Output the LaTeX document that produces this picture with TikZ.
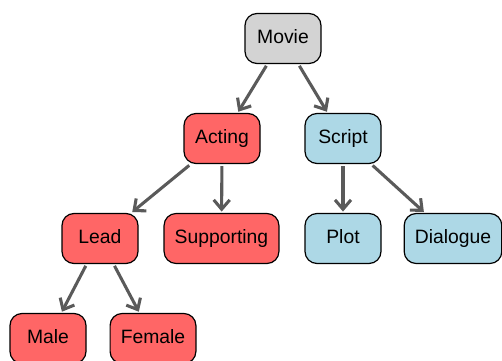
\documentclass[tikz,border=0pt]{standalone}
\usepackage{fontspec}
\setmainfont{Liberation Sans}
\usepackage{xcolor}
\usepackage{tikz}
\usetikzlibrary{arrows.meta}

\definecolor{rootgray}{HTML}{D3D3D3}
\definecolor{actred}{HTML}{FF6666}
\definecolor{scriptblue}{HTML}{ADD8E6}
\definecolor{edggray}{HTML}{5A5A5A}

\begin{document}
\begin{tikzpicture}[
  x=0.75pt, y=-0.75pt,             % <-- unidades en px de la imagen
  box/.style={draw=black, line width=0.9pt, rounded corners=9pt, align=center, minimum width=57pt, minimum height=37.5pt, inner xsep=8pt, text height=10.5pt, text depth=3pt, font=\fontsize{14.5}{17}\selectfont},
  boxgray/.style={box, fill=rootgray},
  boxred/.style={box, fill=actred},
  boxblue/.style={box, fill=scriptblue},
  edg/.style={-{Straight Barb[length=7pt,width=12pt]}, line width=2.3pt, edggray, shorten <=1.5pt, shorten >=1pt}
]
\useasboundingbox (0,0) rectangle (502,360);
\clip (0,0) rectangle (502,360);

\node[boxgray] (M) at (283,38.5) {Movie};

\node[boxred] (A) at (222,138.5) {Acting};
\node[boxblue] (S) at (343,138.5) {Script};

\node[boxred] (AL) at (100,238.5) {Lead};
\node[boxred] (AS) at (221.5,238.5) {Supporting};
\node[boxblue] (SP) at (343,238.5) {Plot};
\node[boxblue] (SD) at (453,238.5) {Dialogue};

\node[boxred] (LM) at (48,338.5) {Male};
\node[boxred] (LF) at (153,338.5) {Female};

\draw[edg] (M) -- (A);
\draw[edg] (M) -- (S);
\draw[edg] (A) -- (AL);
\draw[edg] (A) -- (AS);
\draw[edg] (S) -- (SP);
\draw[edg] (S) -- (SD);
\draw[edg] (AL) -- (LM);
\draw[edg] (AL) -- (LF);

\end{tikzpicture}
\end{document}
